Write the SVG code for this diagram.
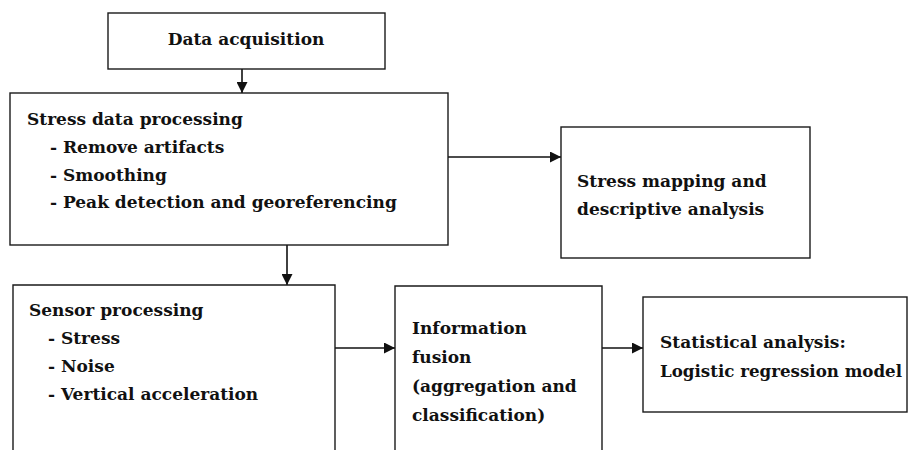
<svg xmlns="http://www.w3.org/2000/svg" width="910" height="450" viewBox="0 0 910 450">
<style>
.box{fill:#fff;stroke:#1a1a1a;stroke-width:1.4}
.t{font-family:"Palatino Linotype","Book Antiqua",Palatino,"DejaVu Serif",serif;font-weight:bold;font-size:17px;fill:#111}
.c{fill:none;stroke:#111;stroke-width:1.6}
</style>
<defs>
<marker id="ah" viewBox="0 0 10 10" refX="10" refY="5" markerWidth="11" markerHeight="11" markerUnits="userSpaceOnUse" orient="auto">
<path d="M0,0 L10,5 L0,10 Z" fill="#111"/>
</marker>
</defs>
<rect width="910" height="450" fill="#fff"/>
<g id="connectors">
<line class="c" x1="242" y1="69" x2="242" y2="93" marker-end="url(#ah)"/>
<line class="c" x1="448" y1="157" x2="561" y2="157" marker-end="url(#ah)"/>
<line class="c" x1="287" y1="245" x2="287" y2="285" marker-end="url(#ah)"/>
<line class="c" x1="335" y1="348" x2="395" y2="348" marker-end="url(#ah)"/>
<line class="c" x1="602" y1="348" x2="643" y2="348" marker-end="url(#ah)"/>
</g>
<g id="data-acquisition">
<rect class="box" x="108" y="13" width="277" height="56"/>
<text class="t" x="246" y="45" text-anchor="middle">Data acquisition</text>
</g>
<g id="stress-data-processing">
<rect class="box" x="10" y="93" width="438" height="152"/>
<text class="t" x="27" y="125">Stress data processing</text>
<text class="t" x="50" y="153">- Remove artifacts</text>
<text class="t" x="50" y="181">- Smoothing</text>
<text class="t" x="50" y="208">- Peak detection and georeferencing</text>
</g>
<g id="stress-mapping">
<rect class="box" x="561" y="127" width="249" height="131"/>
<text class="t" x="577" y="187">Stress mapping and</text>
<text class="t" x="577" y="215">descriptive analysis</text>
</g>
<g id="sensor-processing">
<path class="box" d="M13,452 V285 H335 V452"/>
<text class="t" x="29" y="316">Sensor processing</text>
<text class="t" x="48" y="344">- Stress</text>
<text class="t" x="48" y="372">- Noise</text>
<text class="t" x="48" y="400">- Vertical acceleration</text>
</g>
<g id="information-fusion">
<path class="box" d="M395,452 V286 H602 V452"/>
<text class="t" x="412" y="334">Information</text>
<text class="t" x="412" y="363">fusion</text>
<text class="t" x="412" y="392">(aggregation and</text>
<text class="t" x="412" y="421">classification)</text>
</g>
<g id="statistical-analysis">
<rect class="box" x="643" y="297" width="264" height="115"/>
<text class="t" x="660" y="348">Statistical analysis:</text>
<text class="t" x="660" y="377" textLength="242" lengthAdjust="spacingAndGlyphs">Logistic regression model</text>
</g>
</svg>
